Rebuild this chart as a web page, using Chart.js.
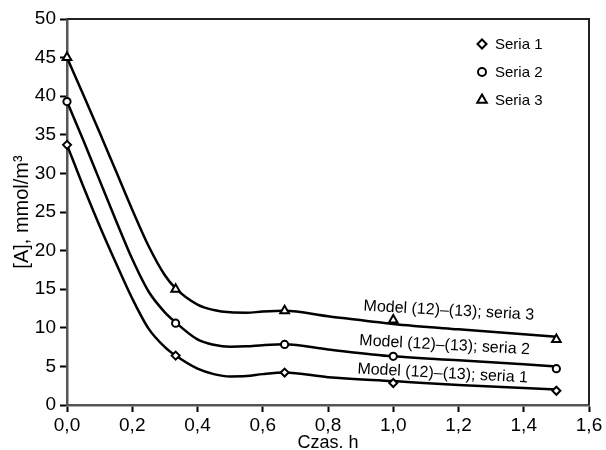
<!DOCTYPE html>
<html>
<head>
<meta charset="utf-8">
<script src="https://cdn.jsdelivr.net/npm/chart.js@4"></script>
<style>
  html, body { margin: 0; padding: 0; background: #fff; }
  #wrap { width: 606px; height: 450px; }
</style>
</head>
<body>
<div id="wrap"><canvas id="myChart" width="606" height="450"></canvas></div>
<script>
// measured points (time h)
var pointTimes = [0, 0.333, 0.667, 1.0, 1.5];
var seria1 = [33.7, 6.4, 4.2, 2.85, 1.85];
var seria2 = [39.3, 10.6, 7.85, 6.3, 4.7];
var seria3 = [45.0, 15.0, 12.2, 11.0, 8.5];

// model (12)-(13) curves
var modelX  = [0, 0.05, 0.1, 0.15, 0.2, 0.25, 0.3, 0.333, 0.4, 0.45, 0.5, 0.55, 0.6, 0.667, 0.8, 1.0, 1.2, 1.5];
var model1Y = [33.7, 28.3, 23.2, 18.4, 13.8, 9.9, 7.5, 6.4, 4.7, 4.0, 3.7, 3.75, 4.0, 4.2, 3.6, 3.1, 2.6, 2.0];
var model2Y = [39.3, 34.3, 29.1, 23.9, 18.9, 14.7, 12.0, 10.7, 8.5, 7.8, 7.55, 7.6, 7.75, 7.86, 7.2, 6.3, 5.8, 5.0];
var model3Y = [45, 40.2, 35.3, 30.3, 25.3, 20.6, 16.8, 15.1, 13.0, 12.3, 12.0, 11.95, 12.1, 12.2, 11.5, 10.5, 9.8, 8.85];

var modelNames = ['Model (12)\u2013(13); seria 1', 'Model (12)\u2013(13); seria 2', 'Model (12)\u2013(13); seria 3'];
var seriesNames = ['Seria 1', 'Seria 2', 'Seria 3'];

var xTicks = [0, 0.2, 0.4, 0.6, 0.8, 1.0, 1.2, 1.4, 1.6];

var FONT = "'Liberation Sans', Arial, sans-serif";

function pairs(xs, ys) {
    return xs.map(function (x, i) { return {x: x, y: ys[i]}; });
}

function modelSet(ys) {
    return {
        label: 'model',
        data: pairs(modelX, ys),
        showLine: true,
        borderColor: '#000',
        borderWidth: 2.5,
        pointRadius: 0,
        cubicInterpolationMode: 'monotone',
        fill: false,
        order: 2
    };
}

function pointSet(name, ys, style, r) {
    return {
        label: name,
        data: pairs(pointTimes, ys),
        showLine: false,
        pointStyle: style,
        pointRadius: r,
        pointBorderWidth: 2,
        pointBorderColor: '#000',
        pointBackgroundColor: '#fff',
        clip: false,
        order: 1
    };
}

// top/right frame lines
var framePlugin = {
    id: 'frame',
    beforeDatasetsDraw: function (chart) {
        var a = chart.chartArea, c = chart.ctx;
        c.save();
        c.strokeStyle = '#222';
        c.lineWidth = 2;
        c.beginPath();
        c.moveTo(a.left, a.top);
        c.lineTo(a.right, a.top);
        c.lineTo(a.right, a.bottom);
        c.stroke();
        c.restore();
    }
};

// legend in the upper right corner + labels on the model curves
var notesPlugin = {
    id: 'notes',
    afterDraw: function (chart) {
        var c = chart.ctx;
        var xs = chart.scales.x, ys = chart.scales.y;
        var styles = ['rectRot', 'circle', 'triangle'];
        var radii = [4.5, 4, 5.5];
        c.save();
        c.font = '15px ' + FONT;
        c.textBaseline = 'middle';
        for (var i = 0; i < 3; i++) {
            var ly = 44 + i * 28;
            c.strokeStyle = '#000';
            c.fillStyle = '#fff';
            Chart.helpers.drawPoint(c, {pointStyle: styles[i], radius: radii[i], rotation: 0, borderWidth: 3}, 482, ly);
            c.fillStyle = '#000';
            c.fillText(seriesNames[i], 495, ly + 1);
        }

        // curve labels, slightly tilted like the curves
        var spots = [[0.89, 4.66], [0.896, 8.33], [0.909, 12.8]];
        c.font = '16px ' + FONT;
        for (var j = 0; j < 3; j++) {
            c.save();
            c.translate(xs.getPixelForValue(spots[j][0]), ys.getPixelForValue(spots[j][1]));
            c.rotate(0.053);
            c.fillText(modelNames[j], 0, 0);
            c.restore();
        }
        c.restore();
    }
};

var ctx = document.getElementById('myChart').getContext('2d');

var myChart = new Chart(ctx, {
    type: 'scatter',
    data: {
        datasets: [
            modelSet(model1Y),
            modelSet(model2Y),
            modelSet(model3Y),
            pointSet(seriesNames[0], seria1, 'rectRot', 4),
            pointSet(seriesNames[1], seria2, 'circle', 3.6),
            pointSet(seriesNames[2], seria3, 'triangle', 5)
        ]
    },
    options: {
        responsive: false,
        animation: false,
        layout: {
            padding: {top: 19, right: 17, left: 0, bottom: 0}
        },
        plugins: {
            legend: {display: false},
            tooltip: {enabled: false}
        },
        scales: {
            x: {
                type: 'linear',
                min: 0,
                max: 1.6,
                afterFit: function (s) { s.height = 45; },
                afterBuildTicks: function (s) {
                    s.ticks = xTicks.map(function (v) { return {value: v}; });
                },
                ticks: {
                    color: '#000',
                    padding: 2,
                    maxRotation: 0,
                    font: {family: FONT, size: 19},
                    callback: function (v) { return v.toFixed(1).replace('.', ','); }
                },
                grid: {
                    drawOnChartArea: false,
                    tickLength: 7,
                    tickWidth: 2,
                    tickColor: '#000'
                },
                border: {color: '#555', width: 2.5},
                title: {
                    display: true,
                    text: 'Czas. h',
                    color: '#000',
                    font: {family: FONT, size: 18, lineHeight: 1},
                    padding: {top: 0, bottom: -2}
                }
            },
            y: {
                min: 0,
                max: 50,
                afterFit: function (s) { s.width = 67; },
                ticks: {
                    stepSize: 5,
                    color: '#000',
                    padding: 4,
                    font: {family: FONT, size: 19}
                },
                grid: {
                    drawOnChartArea: false,
                    tickLength: 7,
                    tickWidth: 2,
                    tickColor: '#000'
                },
                border: {color: '#555', width: 2.5},
                title: {
                    display: true,
                    text: '[A], mmol/m\u00b3',
                    color: '#000',
                    font: {family: FONT, size: 20, lineHeight: 1},
                    padding: {top: 12, bottom: 0}
                }
            }
        }
    },
    plugins: [framePlugin, notesPlugin]
});
</script>
</body>
</html>
